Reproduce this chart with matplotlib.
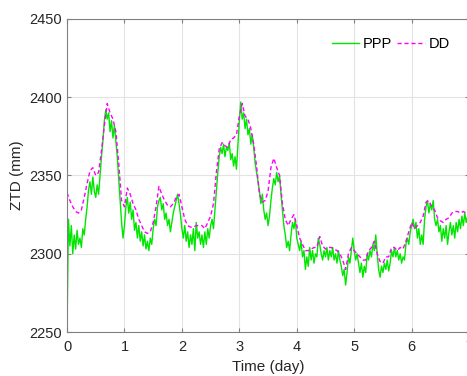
import numpy as np
import matplotlib
matplotlib.use("Agg")
import matplotlib.pyplot as plt

plt.rcParams['font.family'] = ['Liberation Sans', 'DejaVu Sans']

# PPP ZTD, one value every 0.025 day (40 per day)
ppp_day0 = [2252, 2322, 2305, 2318, 2300, 2312, 2303, 2315, 2306, 2310,
            2304, 2316, 2312, 2322, 2330, 2341, 2346, 2338, 2349, 2340,
            2336, 2344, 2338, 2350, 2362, 2372, 2385, 2392, 2386, 2390,
            2378, 2385, 2374, 2382, 2372, 2362, 2348, 2334, 2320, 2310]
ppp_day1 = [2318, 2330, 2336, 2326, 2333, 2322, 2328, 2315, 2320, 2310,
            2318, 2308, 2314, 2305, 2312, 2303, 2308, 2302, 2310, 2306,
            2316, 2322, 2318, 2330, 2334, 2336, 2328, 2332, 2322, 2326,
            2318, 2322, 2314, 2320, 2326, 2330, 2334, 2338, 2332, 2325]
ppp_day2 = [2316, 2310, 2318, 2308, 2314, 2304, 2312, 2306, 2316, 2302,
            2320, 2310, 2314, 2306, 2312, 2304, 2314, 2306, 2316, 2310,
            2318, 2322, 2316, 2328, 2340, 2352, 2362, 2368, 2364, 2370,
            2362, 2368, 2366, 2371, 2360, 2364, 2356, 2362, 2354, 2370]
ppp_day3 = [2385, 2397, 2386, 2390, 2380, 2386, 2376, 2380, 2370, 2376,
            2368, 2358, 2352, 2346, 2340, 2332, 2338, 2328, 2322, 2326,
            2318, 2324, 2334, 2342, 2348, 2344, 2352, 2346, 2350, 2338,
            2328, 2318, 2312, 2304, 2308, 2302, 2312, 2320, 2316, 2322]
ppp_day4 = [2310, 2306, 2302, 2308, 2298, 2302, 2290, 2298, 2292, 2304,
            2296, 2302, 2294, 2300, 2298, 2310, 2306, 2300, 2296, 2302,
            2298, 2304, 2296, 2302, 2298, 2304, 2296, 2300, 2294, 2302,
            2296, 2292, 2286, 2290, 2280, 2288, 2298, 2294, 2302, 2310]
ppp_day5 = [2302, 2296, 2300, 2294, 2288, 2294, 2285, 2292, 2288, 2300,
            2296, 2302, 2298, 2306, 2302, 2312, 2300, 2290, 2285, 2292,
            2288, 2294, 2290, 2296, 2289, 2294, 2302, 2298, 2304, 2298,
            2302, 2296, 2300, 2294, 2298, 2296, 2306, 2310, 2306, 2314]
ppp_day6 = [2318, 2322, 2316, 2320, 2310, 2316, 2306, 2312, 2306, 2322,
            2330, 2334, 2326, 2332, 2328, 2334, 2322, 2318, 2322, 2314,
            2318, 2308, 2316, 2310, 2318, 2306, 2314, 2320, 2312, 2318,
            2310, 2320, 2314, 2322, 2316, 2324, 2318, 2326, 2320, 2324,
            2328]

# DD ZTD, one value every 0.05 day (20 per day)
dd_day0 = [2339, 2334, 2330, 2327, 2326, 2328, 2336, 2345, 2353, 2355,
           2350, 2352, 2366, 2382, 2396, 2390, 2386, 2378, 2358, 2334]
dd_day1 = [2330, 2342, 2338, 2332, 2328, 2322, 2318, 2314, 2313, 2314,
           2320, 2330, 2343, 2338, 2334, 2331, 2330, 2332, 2336, 2338]
dd_day2 = [2330, 2322, 2318, 2317, 2317, 2318, 2318, 2318, 2316, 2320,
           2324, 2332, 2352, 2367, 2371, 2369, 2368, 2373, 2374, 2376]
dd_day3 = [2388, 2396, 2388, 2386, 2380, 2370, 2356, 2338, 2333, 2334,
           2340, 2355, 2361, 2355, 2350, 2332, 2322, 2318, 2322, 2325]
dd_day4 = [2318, 2310, 2306, 2302, 2302, 2303, 2304, 2304, 2311, 2305,
           2303, 2304, 2304, 2303, 2302, 2300, 2296, 2290, 2300, 2304]
dd_day5 = [2302, 2300, 2298, 2296, 2296, 2302, 2304, 2308, 2300, 2295,
           2294, 2298, 2298, 2304, 2304, 2302, 2304, 2303, 2308, 2314]
dd_day6 = [2320, 2316, 2318, 2320, 2324, 2333, 2334, 2330, 2328, 2323,
           2321, 2320, 2322, 2323, 2326, 2327, 2327, 2326, 2327, 2326,
           2326]

ppp = ppp_day0 + ppp_day1 + ppp_day2 + ppp_day3 + ppp_day4 + ppp_day5 + ppp_day6
dd = dd_day0 + dd_day1 + dd_day2 + dd_day3 + dd_day4 + dd_day5 + dd_day6
t_ppp = np.linspace(0, 7, len(ppp))
t_dd = np.linspace(0, 7, len(dd))

fig = plt.figure(figsize=(4.67, 3.76), dpi=100)
ax = fig.add_axes([0.1435, 0.117, 0.861, 0.8325])

ax.plot(t_ppp, ppp, color='#00e600', lw=1.0, label='PPP')
ax.plot(t_dd, dd, color='#ff00ff', lw=1.0, ls=(0, (3, 2)), label='DD')

ax.set_xlim(0, 7)
ax.set_ylim(2250, 2450)
ax.set_xticks(range(0, 8))
ax.set_yticks(range(2250, 2451, 50))
ax.grid(True, color='#e3e3e3', lw=0.8)
ax.set_axisbelow(True)
ax.tick_params(direction='in', length=3, labelsize=10.5, colors='#262626',
               top=True, right=True, color='#808080')
ax.tick_params(axis='x', pad=6)
for s in ax.spines.values():
    s.set_color('#808080')
    s.set_linewidth(0.8)

ax.set_xlabel('Time (day)', fontsize=11, color='#262626', labelpad=4)
ax.set_ylabel('ZTD (mm)', fontsize=11, color='#262626', labelpad=4)

ax.legend(loc='upper right', ncol=2, frameon=False, fontsize=10.5,
          handlelength=1.9, handletextpad=0.25, columnspacing=0.35,
          bbox_to_anchor=(0.985, 0.985))

fig.savefig('out.png', dpi=100)
